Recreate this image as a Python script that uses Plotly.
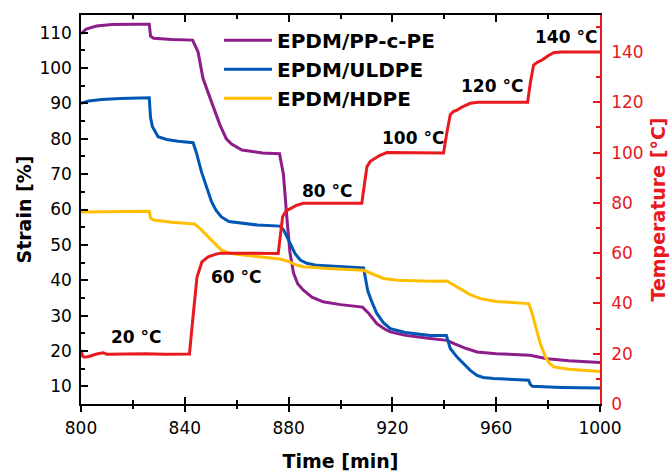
import plotly.graph_objects as go

# ---------------- data ----------------
t_pp = [800, 802, 806, 812, 820, 826.3, 826.8, 828, 835, 843, 845.1, 847, 850, 853.5, 856, 858, 862,
        866, 870, 876.5, 878, 879.3, 880.5, 881.9, 883.5, 885.7, 889, 893.3, 900, 908.5, 911, 914,
        917, 919.2, 925, 934.6, 941, 944, 948, 952.6, 960, 973, 976, 979.6, 988, 1000]
s_pp = [109.7, 111.0, 111.9, 112.3, 112.4, 112.4, 109.0, 108.4, 108.1, 107.9, 104.6, 97.1, 91.0, 84.0,
        80.0, 78.5, 76.8, 76.3, 76.0, 75.8, 70.0, 58.0, 48.0, 42.0, 39.0, 37.2, 35.2, 33.9, 33.1, 32.4,
        30.5, 27.7, 26.2, 25.4, 24.4, 23.5, 23.0, 22.0, 20.8, 19.7, 19.2, 18.8, 18.3, 17.8, 17.2, 16.7]

t_ul = [800, 803, 808, 815, 826.3, 826.8, 827.5, 829.7, 833, 837.4, 843.2, 844.5, 846.4, 848.5, 850.3,
        852, 854.1, 857, 862, 868, 876.7, 878, 880.6, 882.5, 884.5, 887, 890.9, 900, 908.9, 909.5,
        910.5, 912, 914, 916.5, 919.2, 925, 934.6, 940.8, 941.5, 942.3, 945, 947.4, 950, 952.6, 955,
        959, 972.5, 973.2, 974, 985, 1000]
s_ul = [90.0, 90.7, 91.1, 91.4, 91.6, 86.0, 83.5, 80.6, 79.8, 79.3, 78.9, 76.0, 70.7, 66.0, 62.2,
        59.8, 57.9, 56.6, 56.1, 55.6, 55.3, 54.3, 50.4, 47.5, 45.7, 44.8, 44.2, 43.8, 43.5, 41.0,
        37.0, 34.0, 30.6, 28.0, 26.3, 25.2, 24.4, 24.4, 22.5, 20.7, 18.2, 16.4, 14.5, 13.1, 12.5,
        12.2, 11.7, 10.5, 10.0, 9.7, 9.5]

t_hd = [800, 810, 826.3, 826.8, 828, 835, 843.8, 846, 849, 851.5, 854.1, 857, 859.3, 865.2, 870, 876.7,
        880, 883, 885.7, 895, 908.9, 912, 916.6, 922, 934.6, 941, 943, 947, 950, 953.9, 960, 972.5,
        973.5, 975.1, 977, 979, 980.5, 982.2, 988, 1000]
s_hd = [59.3, 59.4, 59.5, 57.5, 57.0, 56.4, 55.9, 54.5, 52.3, 50.3, 48.5, 47.7, 47.4, 46.9, 46.6, 46.0,
        45.3, 44.3, 43.8, 43.3, 42.8, 41.8, 40.5, 40.0, 39.7, 39.8, 39.0, 37.2, 35.9, 34.8, 34.0, 33.4,
        31.5, 26.8, 22.0, 18.3, 16.5, 15.5, 14.8, 14.2]

t_temp = [800, 800.6, 801.4, 803, 806, 808.5, 810, 815, 818, 825, 832, 838, 841.8, 843.2, 844.7, 846.6,
          849, 852, 854, 876, 876.8, 877.7, 879, 880.6, 883, 885.7, 908.2, 909.3, 910.2, 911.5, 912.8,
          915, 917.9, 939.7, 941, 942.3, 943.5, 944.9, 947, 950, 953, 972.1, 973.2, 974.4, 976, 977.7,
          980, 982.1, 985, 1000]
temp = [21.5, 19.0, 18.6, 18.9, 19.9, 20.4, 19.8, 19.9, 19.7, 20.0, 19.8, 19.9, 19.9, 35.0, 50.5, 56.5,
        58.5, 59.6, 60.0, 59.9, 67.0, 74.5, 76.8, 77.8, 79.0, 79.8, 79.8, 88.0, 94.4, 96.5, 97.3,
        98.8, 100.0, 99.8, 108.0, 115.0, 116.3, 116.9, 118.2, 119.6, 120.0, 120.0, 128.0, 134.8, 136.0,
        136.8, 138.5, 139.7, 140.0, 140.0]

series_names = ["EPDM/PP-c-PE", "EPDM/ULDPE", "EPDM/HDPE"]
series_colors = ["#8C1D8A", "#0057B3", "#FFBF00"]

label_text = ["20 °C", "60 °C", "80 °C", "100 °C", "120 °C", "140 °C"]
label_t = [821.3, 859.8, 895.0, 927.8, 958.4, 986.9]
label_T = [26.8, 50.6, 84.8, 105.7, 126.5, 146.1]

x_ticks = [800, 840, 880, 920, 960, 1000]
y_ticks = [10, 20, 30, 40, 50, 60, 70, 80, 90, 100, 110]
y2_ticks = [0, 20, 40, 60, 80, 100, 120, 140]

FONT = "DejaVu Sans"
RED = "#E8191F"

fig = go.Figure()
for t, s, n, c in zip([t_pp, t_ul, t_hd], [s_pp, s_ul, s_hd], series_names, series_colors):
    fig.add_trace(go.Scatter(x=t, y=s, name=n, mode="lines",
                             line=dict(color=c, width=3), xaxis="x", yaxis="y"))

fig.add_trace(go.Scatter(x=t_temp, y=temp, mode="lines", showlegend=False,
                         line=dict(color=RED, width=3), xaxis="x", yaxis="y2"))

# helper empty trace so that the outward half of the bottom ticks is drawn
fig.add_trace(go.Scatter(x=[], y=[], xaxis="x3", yaxis="y", showlegend=False, hoverinfo="skip"))

for txt, tx, ty in zip(label_text, label_t, label_T):
    fig.add_annotation(x=tx, y=ty, xref="x", yref="y2", text="<b>" + txt + "</b>",
                       showarrow=False, font=dict(family=FONT, size=17, color="black"))

fig.update_layout(
    width=670, height=472,
    margin=dict(l=81, r=70, t=15, b=68, autoexpand=False),
    paper_bgcolor="white", plot_bgcolor="white",
    showlegend=True,
    legend=dict(x=0.266, y=0.985, xanchor="left", yanchor="top",
                font=dict(family=FONT, size=20, color="black", weight="bold"),
                bgcolor="rgba(0,0,0,0)", itemwidth=48, traceorder="normal"),
    xaxis=dict(range=[800, 1000], tickvals=x_ticks, ticks="inside", ticklen=7, tickwidth=1.5,
               tickcolor="black", showline=True, linecolor="black", linewidth=1.5,
               mirror="ticks", showgrid=False, zeroline=False, automargin=False,
               ticklabelstandoff=8,
               minor=dict(dtick=20, tick0=800, ticks="inside", ticklen=4, tickcolor="black", tickwidth=1.5),
               tickfont=dict(family=FONT, size=17, color="black"),
               title=dict(text="<b>Time [min]</b>", font=dict(family=FONT, size=19, color="black"),
                          standoff=19)),
    xaxis3=dict(range=[800, 1000], overlaying="x", anchor="y", side="bottom", automargin=False,
                tickvals=x_ticks, ticks="outside", ticklen=7, tickwidth=1.5, tickcolor="black",
                showticklabels=False, showline=False, showgrid=False, zeroline=False,
                minor=dict(dtick=20, tick0=800, ticks="outside", ticklen=4, tickcolor="black", tickwidth=1.5)),
    yaxis=dict(range=[5, 115], tickvals=y_ticks, ticks="inside", ticklen=7, tickwidth=1.5,
               tickcolor="black", showline=True, linecolor="black", linewidth=1.5,
               showgrid=False, zeroline=False, ticklabelstandoff=4, automargin=False,
               minor=dict(dtick=5, tick0=5, ticks="inside", ticklen=4, tickcolor="black", tickwidth=1.5),
               tickfont=dict(family=FONT, size=17, color="black"),
               title=dict(text="<b>Strain [%]</b>", font=dict(family=FONT, size=19, color="black"),
                          standoff=3)),
    yaxis2=dict(range=[0, 154.7], tickvals=y2_ticks, overlaying="y", side="right", anchor="x",
                ticks="inside", ticklen=7, tickwidth=1.5, tickcolor=RED, automargin=False,
                showline=True, linecolor=RED, linewidth=1.5, showgrid=False, zeroline=False,
                ticklabelstandoff=6,
                minor=dict(dtick=10, tick0=0, ticks="inside", ticklen=4, tickcolor=RED, tickwidth=1.5),
                tickfont=dict(family=FONT, size=17, color=RED),
                title=dict(text="<b>Temperature [°C]</b>", font=dict(family=FONT, size=19, color=RED),
                           standoff=9)),
)

fig.write_html("out.html")
